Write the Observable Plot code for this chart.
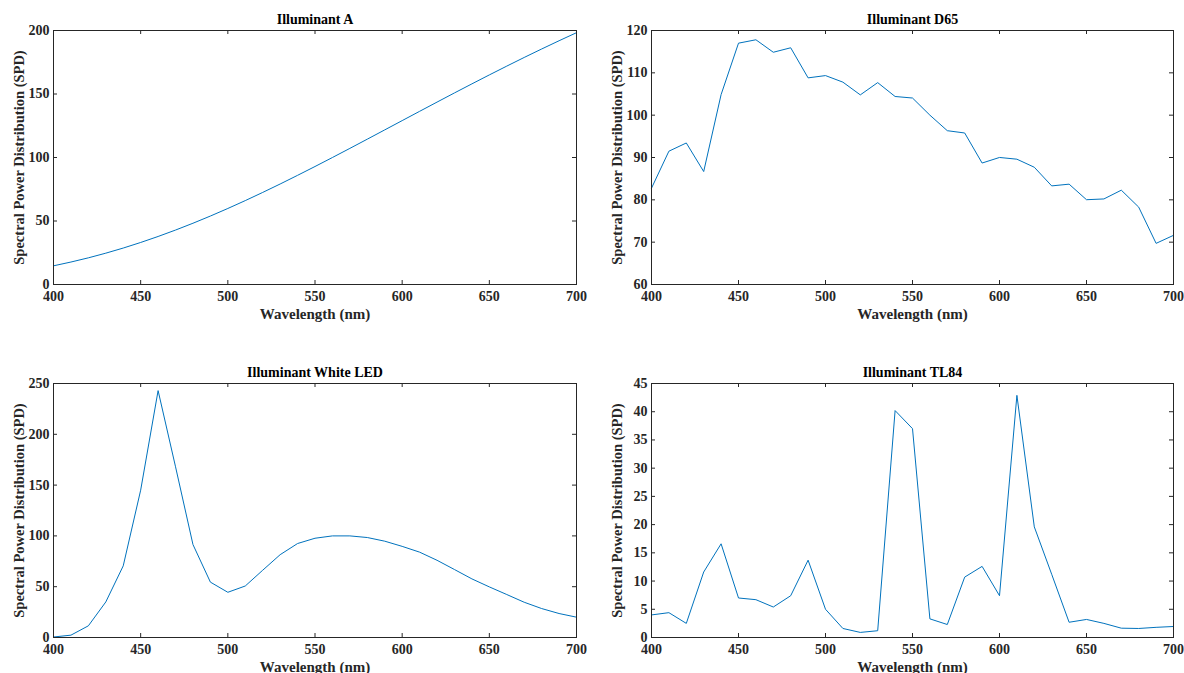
<!DOCTYPE html>
<html><head><meta charset="utf-8">
<script src="https://cdn.jsdelivr.net/npm/d3@7"></script>
<script src="https://cdn.jsdelivr.net/npm/@observablehq/plot@0.6"></script>
<style>
body{margin:0;background:#fff;width:1184px;height:673px;overflow:hidden;position:relative;}
.panel{position:absolute;}
.panel svg{display:block;}
</style></head><body>
<div id="pA" class="panel" style="left:0;top:0"></div>
<div id="pD65" class="panel" style="left:592px;top:0"></div>
<div id="pLED" class="panel" style="left:0;top:336px"></div>
<div id="pTL84" class="panel" style="left:592px;top:336px"></div>
<script>
const wavelength = [400,410,420,430,440,450,460,470,480,490,500,510,520,530,540,550,560,570,580,590,600,610,620,630,640,650,660,670,680,690,700];
const spdA = [14.71,17.68,20.99,24.67,28.70,33.09,37.81,42.87,48.24,53.91,59.86,66.06,72.50,79.13,85.95,92.91,100.00,107.18,114.44,121.73,129.04,136.35,143.62,150.84,157.98,165.03,171.96,178.77,185.43,191.93,198.26];
const spdD65 = [82.75,91.49,93.43,86.68,104.86,117.01,117.81,114.86,115.92,108.81,109.35,107.80,104.79,107.69,104.41,104.05,100.00,96.33,95.79,88.69,90.01,89.60,87.70,83.29,83.70,80.03,80.21,82.28,78.28,69.72,71.61];
const spdLED = [0.5,2.3,11.5,35,70.5,145,243,168,91.5,54.5,44.5,50.7,66.2,81.5,92.5,97.7,100,100,98.4,94.8,89.7,84,76,66.9,57.7,49.8,42.3,34.7,28.5,23.6,20];
const spdTL84 = [4.0,4.4,2.5,11.6,16.6,7.0,6.7,5.4,7.4,13.7,5.0,1.6,0.9,1.2,40.2,37.0,3.3,2.3,10.7,12.6,7.4,42.9,19.6,11.2,2.7,3.2,2.5,1.65,1.6,1.8,1.95];

const xTicks = [400,450,500,550,600,650,700];
const yTicksA = [0,50,100,150,200];
const yTicksD65 = [60,70,80,90,100,110,120];
const yTicksLED = [0,50,100,150,200,250];
const yTicksTL84 = [0,5,10,15,20,25,30,35,40,45];

const titles = ["Illuminant A","Illuminant D65","Illuminant White LED","Illuminant TL84"];
const xLabel = "Wavelength (nm)";
const yLabel = "Spectral Power Distribution (SPD)";

const FONT = '"Liberation Serif","Times New Roman",serif';
const AX = "#262626";
const LINE = "#0072BD";

function panel(el, {title, values, yDomain, yTicks, mTop, mBottom, mLeft, mRight, width, height}) {
  const data = wavelength.map((w, i) => ({w, v: values[i]}));
  const innerH = height - mTop - mBottom;
  const innerW = width - mLeft - mRight;
  const t = 4;
  const p = Plot.plot({
    width, height,
    marginTop: mTop, marginBottom: mBottom, marginLeft: mLeft, marginRight: mRight,
    style: {fontFamily: FONT, fontSize: "14px", fontWeight: "bold", color: AX, background: "transparent", overflow: "visible"},
    x: {domain: [400, 700]},
    y: {domain: yDomain},
    marks: [
      Plot.line(data, {x: "w", y: "v", stroke: LINE, strokeWidth: 1}),
      Plot.ruleX(xTicks, {x: d => d, insetTop: innerH - t, stroke: AX, strokeWidth: 1}),
      Plot.ruleX(xTicks, {x: d => d, insetBottom: innerH - t, stroke: AX, strokeWidth: 1}),
      Plot.ruleY(yTicks, {y: d => d, insetRight: innerW - t, stroke: AX, strokeWidth: 1}),
      Plot.ruleY(yTicks, {y: d => d, insetLeft: innerW - t, stroke: AX, strokeWidth: 1}),
      Plot.frame({stroke: AX, strokeWidth: 1}),
      Plot.axisX(xTicks, {tickSize: 0, tickPadding: 7, label: null, fill: AX, fontSize: 14}),
      Plot.axisY(yTicks, {tickSize: 0, tickPadding: 4, label: null, fill: AX, fontSize: 14}),
      Plot.text([xLabel], {text: d => d, frameAnchor: "bottom", dy: 30, lineAnchor: "middle", textAnchor: "middle", fontSize: 15, fontWeight: "bold", fill: AX}),
      Plot.text([yLabel], {text: d => d, frameAnchor: "left", dx: -34, rotate: -90, lineAnchor: "middle", textAnchor: "middle", fontSize: 14.5, fontWeight: "bold", fill: AX}),
      Plot.text([title], {text: d => d, frameAnchor: "top", dy: -11, lineAnchor: "middle", textAnchor: "middle", fontSize: 14, fontWeight: "bold", fill: "#000"})
    ]
  });
  document.getElementById(el).appendChild(p);
}

panel("pA", {title: titles[0], values: spdA, yDomain: [0, 200], yTicks: yTicksA, mTop: 30, mBottom: 52, mLeft: 53, mRight: 16, width: 592, height: 336});
panel("pD65", {title: titles[1], values: spdD65, yDomain: [60, 120], yTicks: yTicksD65, mTop: 30, mBottom: 52, mLeft: 59, mRight: 11, width: 592, height: 336});
panel("pLED", {title: titles[2], values: spdLED, yDomain: [0, 250], yTicks: yTicksLED, mTop: 47, mBottom: 36, mLeft: 53, mRight: 16, width: 592, height: 337});
panel("pTL84", {title: titles[3], values: spdTL84, yDomain: [0, 45], yTicks: yTicksTL84, mTop: 47, mBottom: 36, mLeft: 59, mRight: 11, width: 592, height: 337});
</script>
</body></html>
